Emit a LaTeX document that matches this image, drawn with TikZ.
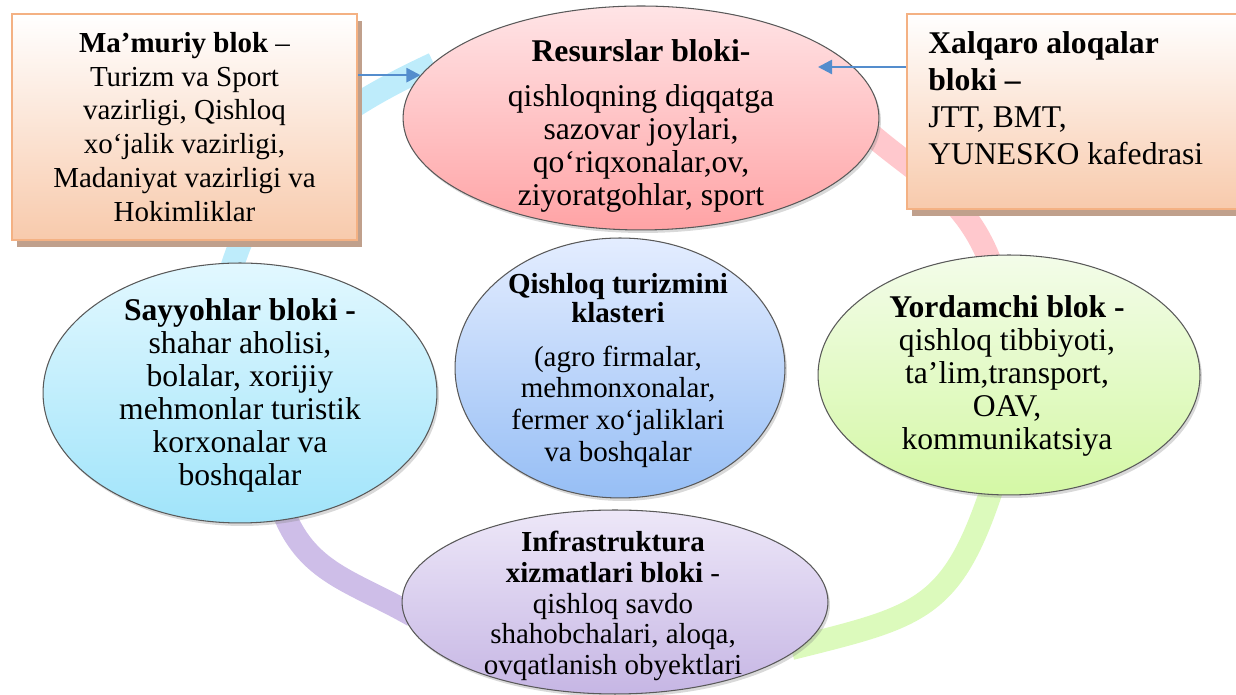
\documentclass[tikz,border=0pt]{standalone}
\usepackage{fontspec}
\setmainfont{Liberation Serif}
\usetikzlibrary{arrows.meta,calc,positioning,shapes.geometric,shadows,backgrounds}
\definecolor{boxbot}{RGB}{248,202,172}
\definecolor{boxedge}{RGB}{244,177,131}
\definecolor{boxshade}{RGB}{192,160,140}
\definecolor{arrowblue}{RGB}{84,141,205}
\definecolor{pinktop}{RGB}{255,228,230}
\definecolor{pinkbot}{RGB}{255,163,165}
\definecolor{cyantop}{RGB}{226,248,255}
\definecolor{cyanbot}{RGB}{160,228,250}
\definecolor{bluetop}{RGB}{228,237,255}
\definecolor{bluebot}{RGB}{150,190,245}
\definecolor{greentop}{RGB}{243,252,233}
\definecolor{greenbot}{RGB}{212,248,165}
\definecolor{liltop}{RGB}{237,231,248}
\definecolor{lilbot}{RGB}{198,182,228}
\definecolor{ringblue}{RGB}{190,236,251}
\definecolor{ringpink}{RGB}{255,200,205}
\definecolor{ringgreen}{RGB}{220,250,188}
\definecolor{ringlil}{RGB}{206,190,232}

\begin{document}
\begin{tikzpicture}[x=0.02cm,y=0.02cm,
  blok/.style={ellipse,draw=black!65,line width=0.6pt,inner sep=0pt,
    drop shadow={opacity=0.3,shadow xshift=0.04cm,shadow yshift=-0.06cm}},
  quti/.style={rectangle,draw=boxedge,line width=1.2pt,inner sep=0pt,
    top color=white,bottom color=boxbot,
    drop shadow={fill=boxshade,opacity=1,shadow xshift=0.1cm,shadow yshift=-0.14cm}},
  matn/.style={align=center,inner sep=0pt,font=\fontsize{18}{18.8}\selectfont},
  halqa/.style={line width=0.46cm,shorten <=-0.25cm,shorten >=-0.25cm},
  strelka/.style={draw=arrowblue,line width=1.4pt,-{Triangle[length=8pt,width=8pt]}}]
  \useasboundingbox (0,0) rectangle (1236,695);

  % bloklar
  \node[blok,top color=pinktop,bottom color=pinkbot,minimum width=9.52cm,minimum height=4.48cm]
    (resurs) at (641,577) {};
  \node[blok,top color=cyantop,bottom color=cyanbot,minimum width=7.88cm,minimum height=5.2cm]
    (sayyoh) at (240,302) {};
  \node[blok,top color=greentop,bottom color=greenbot,minimum width=7.64cm,minimum height=4.8cm]
    (yordam) at (1009,320) {};
  \node[blok,top color=liltop,bottom color=lilbot,minimum width=8.52cm,minimum height=3.68cm]
    (infra) at (615,93) {};
  \node[blok,top color=bluetop,bottom color=bluebot,minimum width=6.6cm,minimum height=5.2cm]
    (klaster) at (620,327) {};

  \node[matn] (resursmatn) at (641,569) {\textbf{Resurslar bloki-}\\[6.3pt]
    qishloqning diqqatga\\sazovar joylari,\\qo‘riqxonalar,ov,\\ziyoratgohlar, sport};
  \node[matn] (sayyohmatn) at (240,300) {\textbf{Sayyohlar bloki -}\\shahar aholisi,\\
    bolalar, xorijiy\\mehmonlar turistik\\korxonalar va\\boshqalar};
  \node[matn] (yordammatn) at (1007,319) {\textbf{Yordamchi blok -}\\qishloq tibbiyoti,\\
    ta’lim,transport,\\OAV,\\kommunikatsiya};
  \node[matn,font=\fontsize{16.5}{18.2}\selectfont] (klastermatn) at (618,324)
    {\textbf{Qishloq turizmini}\\[-1.7pt]\textbf{klasteri}\\[6.3pt]
    (agro firmalar,\\mehmonxonalar,\\fermer xo‘jaliklari\\va boshqalar};
  \node[matn,font=\fontsize{16.5}{17.4}\selectfont] (inframatn) at (613,89)
    {\textbf{Infrastruktura}\\\textbf{xizmatlari bloki} -\\qishloq savdo\\
    shahobchalari, aloqa,\\ovqatlanish obyektlari};

  % tashqi qutilar
  \node[quti,minimum width=6.9cm,minimum height=4.52cm,align=center,
    font=\fontsize{16.5}{19.3}\selectfont] (mamur) at (184.5,568)
    {\textbf{Ma’muriy blok} –\\Turizm va Sport\\vazirligi, Qishloq\\xo‘jalik vazirligi,\\
    Madaniyat vazirligi va\\Hokimliklar};
  \node[quti,minimum width=6.86cm,minimum height=3.9cm] (xalq) at (1078.5,583.5) {};
  \node[matn,align=left,anchor=west,font=\fontsize{18}{21}\selectfont] (xalqmatn) at (928,596.5)
    {\textbf{Xalqaro aloqalar}\\\textbf{bloki –}\\JTT, BMT,\\YUNESKO kafedrasi};

  % strelkalar
  \coordinate (xuch) at (818,628);
  \draw[strelka] (mamur.east |- resurs.169.5) -- (resurs.169.5);
  \draw[strelka] (xalq.west |- xuch) -- (xuch);

  % halqa
  \begin{scope}[on background layer]
    \draw[halqa,draw=ringblue,shorten >=-0.08cm] (sayyoh.93) to[out=73,in=205] (resurs.166);
    \draw[halqa,draw=ringpink] (resurs.-5) to[out=-41,in=110] (yordam.100);
    \draw[halqa,draw=ringgreen] (yordam.261) to[out=252,in=14,looseness=1.3] (infra.-13);
    \draw[halqa,draw=ringlil] (infra.182) to[out=150,in=290] (sayyoh.-70);
  \end{scope}
\end{tikzpicture}
\end{document}
